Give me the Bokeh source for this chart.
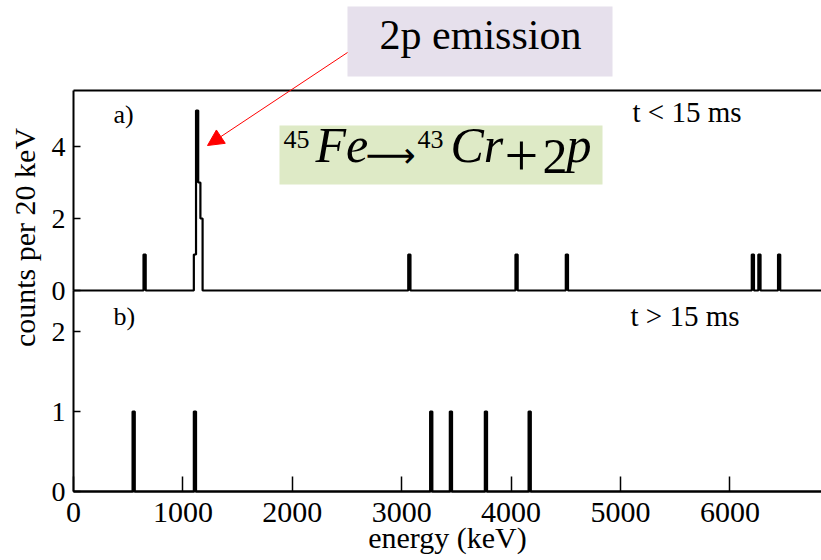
import math
import numpy as np
from bokeh.plotting import figure
from bokeh.models import (Range1d, FixedTicker, Label, BoxAnnotation,
                          Arrow, NormalHead, LinearAxis)
from bokeh.embed import file_html
from bokeh.resources import INLINE

# ---------------- data ----------------
BIN_KEV = 20
X_MAX_KEV = 6840

# panel a) t < 15 ms : histogram bins (start energy in keV) and counts
top_bin_start_kev = [640, 1100, 1120, 1140, 1160, 3060, 4040, 4500, 6200, 6260, 6440]
top_counts = [1, 1, 5, 3, 2, 1, 1, 1, 1, 1, 1]

# panel b) t > 15 ms
bot_bin_start_kev = [540, 1100, 3260, 3440, 3760, 4160]
bot_counts = [1, 1, 1, 1, 1, 1]

x_ticks = [0, 1000, 2000, 3000, 4000, 5000, 6000]
top_y_ticks = [0, 2, 4]
bot_y_ticks = [0, 1, 2]

top_time_label = "t < 15 ms"
bot_time_label = "t > 15 ms"
top_tag = "a)"
bot_tag = "b)"
x_title = "energy (keV)"
y_title = "counts per 20 keV"
callout_text = "2p emission"

# ---------------- layout constants (page pixels) ----------------
SERIF = "Liberation Serif"
W, H = 821, 560
FRAME_LEFT_PX = 73.0          # page x of energy 0
PX_PER_KEV = 0.1094
TOP_ZERO_PX = 290.0           # page y of count 0 in panel a)
TOP_PX_PER_COUNT = 36.0
TOP_FRAME_PX = 90.0
BOT_ZERO_PX = 491.0           # page y of count 0 in panel b)
BOT_PX_PER_COUNT = 80.0


def hist(starts, counts):
    edges = np.arange(0, X_MAX_KEV + BIN_KEV, BIN_KEV)
    vals = np.zeros(len(edges))
    for s, c in zip(starts, counts):
        vals[int(round(s / BIN_KEV))] = c
    return edges, vals


def tx(px):
    return (px - FRAME_LEFT_PX) / PX_PER_KEV


def ty(py):
    return (TOP_ZERO_PX - py) / TOP_PX_PER_COUNT


def by(py):
    return (BOT_ZERO_PX - py) / BOT_PX_PER_COUNT


def style_axis(ax, ticks, tick_in, size, standoff):
    ax.ticker = FixedTicker(ticks=ticks)
    ax.major_tick_in = tick_in
    ax.major_tick_out = 0
    ax.minor_tick_in = 0
    ax.minor_tick_out = 0
    ax.axis_line_width = 2
    ax.axis_line_color = "black"
    ax.major_tick_line_width = 1.5
    ax.major_tick_line_color = "black"
    ax.major_label_text_font = SERIF
    ax.major_label_text_font_size = size
    ax.major_label_text_color = "black"
    ax.major_label_standoff = standoff


p = figure(width=W, height=H,
           x_range=Range1d(tx(0), tx(W)),
           y_range=Range1d(by(H), by(0)),
           output_backend="svg", toolbar_location=None,
           x_axis_location=None, y_axis_location=None,
           min_border_left=0, min_border_right=0,
           min_border_top=0, min_border_bottom=0,
           outline_line_color=None)
p.extra_y_ranges = {"top": Range1d(ty(H), ty(0))}
p.grid.visible = False
p.background_fill_color = "white"
p.border_fill_color = "white"

# ---- axes (pinned at energy 0 / count 0) ----
xa = LinearAxis(fixed_location=0)
style_axis(xa, x_ticks, 15, "30px", 11)
xa.bounds = (0, tx(W))
xa.axis_label = x_title
xa.axis_label_text_font = SERIF
xa.axis_label_text_font_size = "30px"
xa.axis_label_text_font_style = "normal"
xa.axis_label_text_color = "black"
xa.axis_label_standoff = -4
p.add_layout(xa, "below")

yb = LinearAxis(fixed_location=0)
style_axis(yb, bot_y_ticks, 7, "28px", 8)
yb.bounds = (0, by(TOP_ZERO_PX))
p.add_layout(yb, "left")

yt = LinearAxis(y_range_name="top", fixed_location=0)
style_axis(yt, top_y_ticks, 7, "28px", 8)
yt.bounds = (0, ty(TOP_FRAME_PX))
p.add_layout(yt, "left")

# ---- panel a) ----
e, v = hist(top_bin_start_kev, top_counts)
p.step(x=e, y=v, mode="after", line_color="black", line_width=2.2, y_range_name="top")
# top border of panel a)
p.add_layout(Arrow(start=None, end=None, x_start=0, y_start=ty(TOP_FRAME_PX),
                   x_end=tx(W), y_end=ty(TOP_FRAME_PX), line_color="black",
                   line_width=2, y_range_name="top"))

p.add_layout(Label(x=tx(113), y=ty(128), text=top_tag, text_font=SERIF,
                   text_font_size="26px", text_color="black", y_range_name="top"))
p.add_layout(Label(x=tx(632), y=ty(127), text=top_time_label, text_font=SERIF,
                   text_font_size="29px", text_color="black", y_range_name="top"))

# callout box "2p emission"
p.add_layout(BoxAnnotation(left=tx(347), right=tx(612), bottom=ty(76), top=ty(6),
                           fill_color="#E6E0EC", fill_alpha=1, line_color=None,
                           y_range_name="top"))
p.add_layout(Label(x=tx(480), y=ty(57), text=callout_text, text_font=SERIF,
                   text_font_size="42px", text_align="center", text_color="black",
                   y_range_name="top"))

# red arrow
p.add_layout(Arrow(end=NormalHead(size=16, fill_color="red", line_color="red"),
                   x_start=tx(347), y_start=ty(52), x_end=tx(207), y_end=ty(145),
                   line_color="red", line_width=1, y_range_name="top"))

# reaction box
p.add_layout(BoxAnnotation(left=tx(279), right=tx(602), bottom=ty(184), top=ty(125),
                           fill_color="#DEEAC6", fill_alpha=1, line_color=None,
                           y_range_name="top"))
eq_parts = [
    ("45", 283, 147, "26px", "normal", SERIF),
    ("Fe", 315, 172, "50px", "italic", SERIF),
    ("\u27f6", 365, 174, "35px", "normal", "DejaVu Sans"),
    ("43", 417, 147, "26px", "normal", SERIF),
    ("Cr", 450, 172, "50px", "italic", SERIF),
    ("+", 504, 174, "60px", "normal", SERIF),
    ("2", 542, 172, "50px", "normal", SERIF),
    ("p", 566, 172, "50px", "italic", SERIF),
]
for t, px, py, fs, st, fnt in eq_parts:
    p.add_layout(Label(x=tx(px), y=ty(py), text=t, text_font=fnt,
                       text_font_size=fs, text_font_style=st, text_color="black",
                       y_range_name="top"))

# ---- panel b) ----
e, v = hist(bot_bin_start_kev, bot_counts)
p.step(x=e, y=v, mode="after", line_color="black", line_width=2.2)

p.add_layout(Label(x=tx(113), y=by(330), text=bot_tag, text_font=SERIF,
                   text_font_size="26px", text_color="black"))
p.add_layout(Label(x=tx(630), y=by(331), text=bot_time_label, text_font=SERIF,
                   text_font_size="29px", text_color="black"))

# ---- y title spanning both panels ----
p.add_layout(Label(x=tx(24), y=by(237), text=y_title, angle=math.pi / 2,
                   text_align="center", text_baseline="middle", text_font=SERIF,
                   text_font_size="30px", text_color="black"))

open("out.html", "w").write(file_html(p, INLINE))
